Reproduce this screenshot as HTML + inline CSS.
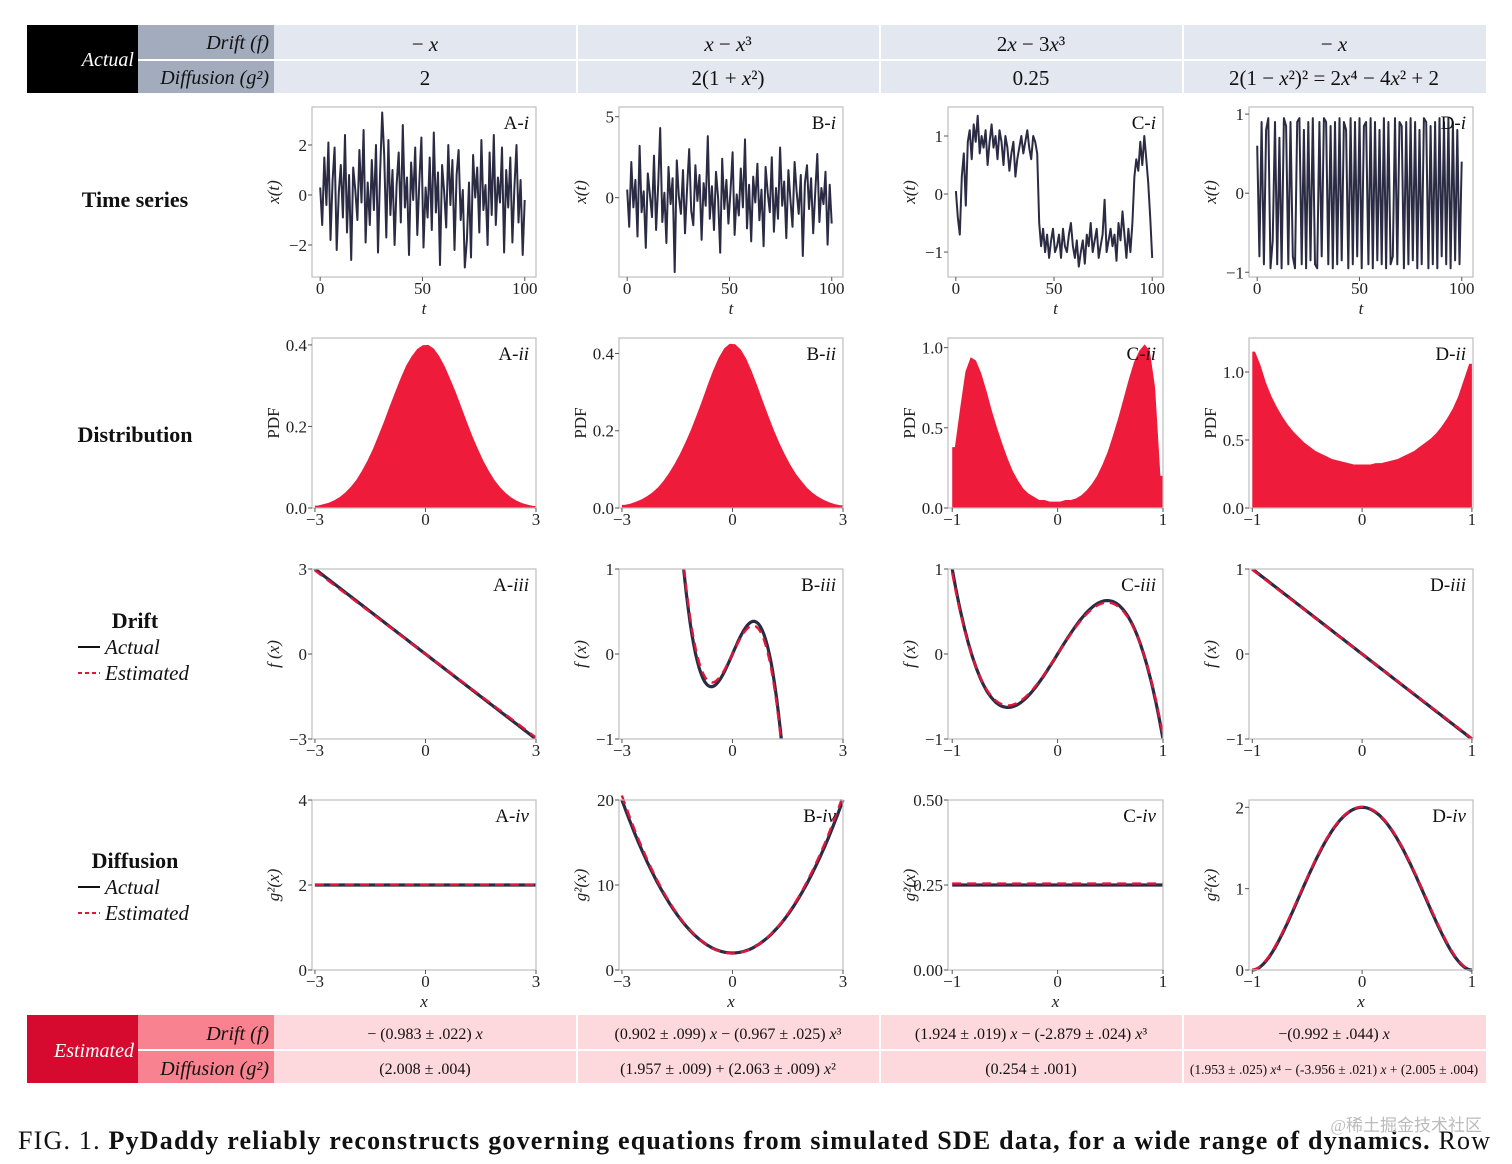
<!DOCTYPE html>
<html><head><meta charset="utf-8">
<style>
html,body{margin:0;padding:0;background:#fff;}
body{width:1512px;height:1164px;overflow:hidden;position:relative;font-family:"Liberation Serif",serif;}
svg{position:absolute;left:0;top:0;}
</style></head>
<body>
<svg id="fig" width="1512" height="1164" viewBox="0 0 1512 1164" xmlns="http://www.w3.org/2000/svg">
 <g>
  <rect x="27" y="25" width="111" height="68" fill="#000"/>
  <rect x="138" y="25" width="136" height="68" fill="#a3acbc"/>
  <rect x="274" y="25" width="1212" height="68" fill="#e3e7ef"/>
  <g stroke="#fff" stroke-width="2">
   <line x1="138" y1="60" x2="1486" y2="60"/>
   <line x1="577" y1="25" x2="577" y2="93"/><line x1="880" y1="25" x2="880" y2="93"/><line x1="1183" y1="25" x2="1183" y2="93"/>
  </g>
  <g font-style="italic" font-size="20">
   <text x="134" y="66" text-anchor="end" fill="#fff">Actual</text>
   <text x="269" y="49" text-anchor="end" fill="#111">Drift (f)</text>
   <text x="269" y="84" text-anchor="end" fill="#111">Diffusion (g²)</text>
  </g>
  <g font-size="21" text-anchor="middle" fill="#111">
   <text x="425" y="51">− <tspan font-style="italic">x</tspan></text>
   <text x="728" y="51"><tspan font-style="italic">x</tspan> − <tspan font-style="italic">x</tspan>³</text>
   <text x="1031" y="51">2<tspan font-style="italic">x</tspan> − 3<tspan font-style="italic">x</tspan>³</text>
   <text x="1334" y="51">− <tspan font-style="italic">x</tspan></text>
   <text x="425" y="85">2</text>
   <text x="728" y="85">2(1 + <tspan font-style="italic">x</tspan>²)</text>
   <text x="1031" y="85">0.25</text>
   <text x="1334" y="85">2(1 − <tspan font-style="italic">x</tspan>²)² = 2<tspan font-style="italic">x</tspan>⁴ − 4<tspan font-style="italic">x</tspan>² + 2</text>
  </g>
 </g>
 <g>
  <rect x="27" y="1015" width="111" height="68" fill="#d60a2e"/>
  <rect x="138" y="1015" width="136" height="68" fill="#f8828f"/>
  <rect x="274" y="1015" width="1212" height="68" fill="#fdd9de"/>
  <g stroke="#fff" stroke-width="2">
   <line x1="138" y1="1050" x2="1486" y2="1050"/>
   <line x1="577" y1="1015" x2="577" y2="1083"/><line x1="880" y1="1015" x2="880" y2="1083"/><line x1="1183" y1="1015" x2="1183" y2="1083"/>
  </g>
  <g font-style="italic" font-size="20">
   <text x="134" y="1057" text-anchor="end" fill="#fff">Estimated</text>
   <text x="269" y="1040" text-anchor="end" fill="#111">Drift (f)</text>
   <text x="269" y="1075" text-anchor="end" fill="#111">Diffusion (g²)</text>
  </g>
  <g font-size="16" text-anchor="middle" fill="#111">
   <text x="425" y="1039">− (0.983 ± .022) <tspan font-style="italic">x</tspan></text>
   <text x="728" y="1039">(0.902 ± .099) <tspan font-style="italic">x</tspan> −  (0.967 ± .025) <tspan font-style="italic">x</tspan>³</text>
   <text x="1031" y="1039">(1.924 ± .019) <tspan font-style="italic">x</tspan> − (-2.879 ± .024) <tspan font-style="italic">x</tspan>³</text>
   <text x="1334" y="1039">−(0.992 ± .044) <tspan font-style="italic">x</tspan></text>
   <text x="425" y="1074">(2.008 ± .004)</text>
   <text x="728" y="1074">(1.957 ± .009) + (2.063 ± .009) <tspan font-style="italic">x</tspan>²</text>
   <text x="1031" y="1074">(0.254 ± .001)</text>
   <text x="1334" y="1074" font-size="13.5">(1.953 ± .025) <tspan font-style="italic">x</tspan>⁴ − (-3.956 ± .021) <tspan font-style="italic">x</tspan> + (2.005 ± .004)</text>
  </g>
 </g>
 <g font-size="22" font-weight="bold" text-anchor="middle" fill="#111">
  <text x="135" y="207">Time series</text>
  <text x="135" y="442">Distribution</text>
  <text x="135" y="628">Drift</text>
  <text x="135" y="868">Diffusion</text>
 </g>
 <g font-size="21" font-style="italic" fill="#111">
  <line x1="78" y1="647" x2="100" y2="647" stroke="#111" stroke-width="2"/><text x="105" y="654">Actual</text>
  <line x1="78" y1="673" x2="100" y2="673" stroke="#e0163a" stroke-width="2" stroke-dasharray="4,3"/><text x="105" y="680">Estimated</text>
 </g>
 <g font-size="21" font-style="italic" fill="#111">
  <line x1="78" y1="887" x2="100" y2="887" stroke="#111" stroke-width="2"/><text x="105" y="894">Actual</text>
  <line x1="78" y1="913" x2="100" y2="913" stroke="#e0163a" stroke-width="2" stroke-dasharray="4,3"/><text x="105" y="920">Estimated</text>
 </g>
 <g id="panels"></g>
 <g fill="#111" font-size="26">
  <text x="18" y="1149" textLength="1472" lengthAdjust="spacing">FIG. 1.   <tspan font-weight="bold">PyDaddy reliably reconstructs governing equations from simulated SDE data, for a wide range of dynamics.</tspan> Row</text>
  <text x="1482" y="1131" font-size="17" fill="#bbb" text-anchor="end">@稀土掘金技术社区</text>
 </g>
</svg>
<script>
// ---- data ----
const tsA=[0.3,-1.2,1.5,-0.4,2.1,-1.8,0.6,1.9,-2.2,0.1,1.2,-0.9,2.4,-1.5,0.8,-2.6,1.1,0.2,-1.0,1.8,-0.3,2.6,-1.9,0.5,-1.2,1.4,-0.6,2.0,-2.3,0.9,3.3,1.6,-1.7,2.2,-0.8,1.0,-2.0,0.4,1.7,-1.1,2.8,-0.5,0.7,-2.4,1.3,-0.2,1.9,-1.6,0.6,2.3,-2.1,0.3,-0.9,1.5,-1.4,2.5,-0.7,0.9,-2.8,1.2,0.1,-1.3,2.0,-0.4,1.4,-2.2,0.8,1.8,-1.0,0.2,-2.9,-1.8,0.5,-2.5,1.6,-0.1,1.1,-1.5,2.2,-0.6,0.4,-2.0,1.7,-0.8,2.4,-1.2,0.7,-0.3,1.9,-2.3,1.0,-0.5,1.5,-1.9,0.3,2.0,-1.1,0.6,-2.4,-0.2];
const tsB=[0.5,-1.8,2.2,-0.6,1.1,-2.4,3.2,-0.9,0.4,-3.1,1.5,0.2,-1.2,2.6,-2.0,0.8,4.3,-1.5,0.3,-2.8,1.9,-0.4,1.2,-4.6,2.3,0.1,-1.0,1.7,-2.2,0.6,3.0,-0.8,-1.7,2.0,-0.2,1.4,-2.6,0.9,-0.5,3.8,-1.3,0.7,-2.0,1.6,0.0,-3.4,2.4,-0.7,1.1,-1.6,0.4,2.8,-2.3,0.2,-1.1,1.8,-0.6,3.6,-1.9,0.8,-2.7,1.3,-0.3,2.1,-1.4,0.5,-3.0,1.9,0.3,-0.9,2.5,-2.1,0.6,-1.3,3.1,-0.5,1.0,-2.5,1.7,-0.1,-1.8,2.2,0.4,-1.0,1.4,-3.6,0.9,2.0,-0.7,1.2,-2.2,0.3,2.7,-1.5,0.6,-0.4,1.6,-2.9,0.8,-1.6];
const tsC=[0.05,-0.4,-0.7,0.3,0.7,-0.2,0.9,1.1,0.6,1.2,0.9,1.35,0.7,1.0,0.8,1.1,0.5,0.9,1.2,0.8,1.0,0.6,1.1,0.9,0.5,1.0,0.8,0.4,0.7,0.9,0.3,0.6,0.8,1.0,0.7,0.9,1.1,0.8,0.6,1.0,0.9,0.7,-0.5,-0.9,-0.6,-1.0,-0.7,-1.1,-0.8,-0.6,-1.0,-0.9,-0.7,-1.1,-0.6,-0.9,-1.0,-0.7,-0.5,-0.9,-1.1,-0.8,-1.25,-1.0,-0.8,-1.2,-0.7,-0.9,-0.5,-1.0,-0.8,-0.6,-1.1,-0.9,-0.7,-0.1,-1.0,-0.8,-0.6,-0.9,-0.7,-1.15,-0.5,-0.8,-0.3,-0.7,-1.1,-0.6,-1.0,-0.5,0.3,0.6,0.4,0.9,0.5,1.0,0.6,0.2,-0.4,-1.1];
const tsD=[0.6,-0.8,0.9,-0.9,0.8,0.95,-0.95,-0.6,0.9,-0.9,0.7,-0.95,0.95,0.85,-0.9,0.9,-0.8,-0.95,0.9,0.95,-0.9,0.8,-0.95,0.9,-0.85,0.95,-0.9,-0.95,0.9,-0.8,0.95,0.9,-0.9,0.85,-0.95,0.9,-0.9,0.95,-0.85,0.9,0.8,-0.95,0.95,-0.9,0.9,-0.8,0.95,-0.95,0.85,0.9,-0.9,0.95,-0.95,0.9,-0.85,0.8,-0.9,0.95,-0.95,0.9,-0.9,-0.8,0.95,-0.9,0.9,0.85,-0.95,0.9,-0.9,0.95,-0.85,0.9,-0.95,0.8,-0.9,0.95,0.9,-0.95,0.85,-0.9,0.9,-0.95,0.95,-0.8,0.9,-0.9,0.95,-0.95,0.9,-0.85,0.8,-0.9,0.4];
const histA=[0.006,0.009,0.013,0.019,0.027,0.038,0.052,0.069,0.091,0.116,0.145,0.178,0.212,0.249,0.284,0.318,0.349,0.372,0.390,0.399,0.400,0.391,0.372,0.347,0.316,0.283,0.247,0.211,0.176,0.144,0.115,0.090,0.068,0.051,0.037,0.026,0.018,0.012,0.008,0.005];
const histB=[0.008,0.011,0.016,0.022,0.030,0.040,0.053,0.070,0.090,0.113,0.140,0.170,0.203,0.240,0.278,0.318,0.356,0.389,0.413,0.425,0.424,0.410,0.386,0.353,0.316,0.276,0.238,0.201,0.168,0.138,0.111,0.088,0.069,0.052,0.039,0.029,0.021,0.015,0.010,0.007];
const histC=[0.38,0.62,0.85,0.94,0.92,0.84,0.73,0.61,0.50,0.40,0.31,0.23,0.17,0.12,0.09,0.07,0.05,0.05,0.04,0.04,0.04,0.05,0.05,0.06,0.08,0.11,0.15,0.20,0.27,0.35,0.45,0.56,0.68,0.80,0.91,0.98,1.02,0.98,0.75,0.20];
const histD=[1.15,1.05,0.92,0.82,0.74,0.67,0.61,0.56,0.52,0.48,0.45,0.42,0.40,0.38,0.36,0.35,0.34,0.33,0.32,0.32,0.32,0.32,0.33,0.33,0.34,0.35,0.36,0.38,0.40,0.42,0.45,0.48,0.51,0.55,0.60,0.66,0.73,0.82,0.94,1.06];
// drift coefficients [c1 (x), c3 (x^3)] : actual / estimated
const driftActual=[[-1,0],[1,-1],[2,-3],[-1,0]];
const driftEst=[[-0.983,0],[0.902,-0.967],[1.924,-2.879],[-0.992,0]];
// diffusion coefficients [c0, c2, c4]
const diffActual=[[2,0,0],[2,2,0],[0.25,0,0],[2,-4,2]];
const diffEst=[[2.008,0,0],[1.957,2.063,0],[0.254,0,0],[2.005,-3.956,1.953]];
const colIds=['A','B','C','D'];
const xTicksTS=[0,50,100];
const yTicksTS=[[-2,0,2],[0,5],[-1,0,1],[-1,0,1]];
const yTicksPDF=[[0.0,0.2,0.4],[0.0,0.2,0.4],[0.0,0.5,1.0],[0.0,0.5,1.0]];
const yTicksDrift=[[-3,0,3],[-1,0,1],[-1,0,1],[-1,0,1]];
const yTicksDiff=[[0,2,4],[0,10,20],[0.00,0.25,0.50],[0,1,2]];
const yDecPDF=[1,1,1,1], yDecDiff=[0,0,2,0];

// ---- layout ----
const NS='http://www.w3.org/2000/svg';
const root=document.getElementById('panels');
const colL=[312,619,948,1249], colR=[536,843,1163,1473];
const rowT=[107,338,569,800], rowB=[277,508,739,970];
const xDomTS=[-4,105.5];
const yDomTS=[[-3.28,3.52],[-4.9,5.6],[-1.43,1.5],[-1.06,1.09]];
const xDomX=[[-3.08,3.0],[-3.08,3.0],[-1.04,1.0],[-1.03,1.01]];
const yDomPDF=[[0,0.417],[0,0.44],[0,1.06],[0,1.25]];
const yDomDrift=[[-3,3],[-1,1],[-1,1],[-1,1]];
const yDomDiff=[[0,4],[0,20],[0,0.5],[0,2.09]];
const tsData=[tsA,tsB,tsC,tsD], histData=[histA,histB,histC,histD];
const roman=['i','ii','iii','iv'];

function el(tag,attrs,parent){const e=document.createElementNS(NS,tag);for(const k in attrs)e.setAttribute(k,attrs[k]);(parent||root).appendChild(e);return e;}
function fmt(v,d){let s=v.toFixed(d);return s.replace('-','−');}

function panel(c,r,xd,yd,xt,yt,ydec,xlabel,ylabel){
  const L=colL[c],R=colR[c],T=rowT[r],B=rowB[r];
  const g=el('g',{});
  
  
  const sx=v=>L+(v-xd[0])/(xd[1]-xd[0])*(R-L);
  const sy=v=>B-(v-yd[0])/(yd[1]-yd[0])*(B-T);
  const body=el('g',{},g);
  el('rect',{x:L,y:T,width:R-L,height:B-T,fill:'none',stroke:'#bdbdbd','stroke-width':1.2},g);
  for(const v of xt){const x=sx(v);el('line',{x1:x,y1:B,x2:x,y2:B+4,stroke:'#555'},g);
    const t=el('text',{x:x,y:B+17,'font-size':17,'text-anchor':'middle',fill:'#222'},g);t.textContent=fmt(v,0);}
  for(const v of yt){const y=sy(v);el('line',{x1:L-4,y1:y,x2:L,y2:y,stroke:'#555'},g);
    const t=el('text',{x:L-5,y:y+6,'font-size':17,'text-anchor':'end',fill:'#222'},g);t.textContent=fmt(v,ydec);}
  if(xlabel){const t=el('text',{x:(L+R)/2,y:B+37,'font-size':17,'font-style':'italic','text-anchor':'middle',fill:'#222'},g);t.textContent=xlabel;}
  const yl=el('text',{x:0,y:0,'font-size':17,'font-style':ylabel==='PDF'?'normal':'italic','text-anchor':'middle',fill:'#222',transform:`translate(${L-33},${(T+B)/2}) rotate(-90)`},g);
  yl.textContent=ylabel;
  const lab=el('text',{x:R-7,y:T+22,'font-size':19,'text-anchor':'end',fill:'#111'},g);
  lab.innerHTML=colIds[c]+'-<tspan font-style="italic">'+roman[r]+'</tspan>';
  return {g:body,sx,sy,L,R};
}

for(let c=0;c<4;c++){
  // row i: time series
  let p=panel(c,0,xDomTS,yDomTS[c],xTicksTS,yTicksTS[c],0,'t','x(t)');
  const d=tsData[c];
  let pts=d.map((v,i)=>p.sx(i*100/(d.length-1)).toFixed(1)+','+p.sy(v).toFixed(1)).join(' ');
  const ln=el('polyline',{points:pts,fill:'none',stroke:'#2b2c44','stroke-width':2,'stroke-linejoin':'round'},p.g);
  
  

  // row ii: histogram (area through bin centres)
  const xd=xDomX[c], lo=(c<2?-3:-1), hi=(c<2?3:1);
  p=panel(c,1,xd,yDomPDF[c],[lo,0,hi],yTicksPDF[c],yDecPDF[c],null,'PDF');
  const h=histData[c], w=(hi-lo)/h.length;
  let path='M'+p.sx(lo)+','+p.sy(0)+' L'+p.sx(lo)+','+p.sy(h[0]).toFixed(1);
  h.forEach((v,i)=>{path+=' L'+p.sx(lo+(i+0.5)*w).toFixed(1)+','+p.sy(v).toFixed(1);});
  path+=' L'+p.sx(hi)+','+p.sy(h[h.length-1]).toFixed(1)+' L'+p.sx(hi)+','+p.sy(0)+' Z';
  const hp=el('path',{d:path,fill:'#ee1b3b'},p.g);
  
  

  // row iii: drift
  p=panel(c,2,xd,yDomDrift[c],[lo,0,hi],yTicksDrift[c],0,null,'f (x)');
  const clip=el('clipPath',{id:'clipd'+c},p.g);
  el('rect',{x:p.L,y:rowT[2],width:p.R-p.L,height:rowB[2]-rowT[2]},clip);
  const curve=(coef,fn)=>{let s='';for(let k=0;k<=120;k++){const x=lo+(hi-lo)*k/120;s+=(k?' L':'M')+p.sx(x).toFixed(1)+','+p.sy(fn(coef,x)).toFixed(1);}return s;};
  const fdrift=(a,x)=>a[0]*x+a[1]*x*x*x;
  const da=el('path',{d:curve(driftActual[c],fdrift),fill:'none',stroke:'#2b2c44','stroke-width':3.2,'clip-path':`url(#clipd${c})`},p.g);
  
  
  const de=el('path',{d:curve(driftEst[c],fdrift),fill:'none',stroke:'#e0163a','stroke-width':2.4,'stroke-dasharray':'9,6','clip-path':`url(#clipd${c})`},p.g);
  
  

  // row iv: diffusion
  p=panel(c,3,xd,yDomDiff[c],[lo,0,hi],yTicksDiff[c],yDecDiff[c],'x','g²(x)');
  const fdiff=(a,x)=>a[0]+a[1]*x*x+a[2]*x*x*x*x;
  const fa=el('path',{d:curve(diffActual[c],fdiff),fill:'none',stroke:'#2b2c44','stroke-width':3.2},p.g);
  
  
  const fe=el('path',{d:curve(diffEst[c],fdiff),fill:'none',stroke:'#e0163a','stroke-width':2.4,'stroke-dasharray':'9,6'},p.g);
  
  
}
</script>
</body></html>
